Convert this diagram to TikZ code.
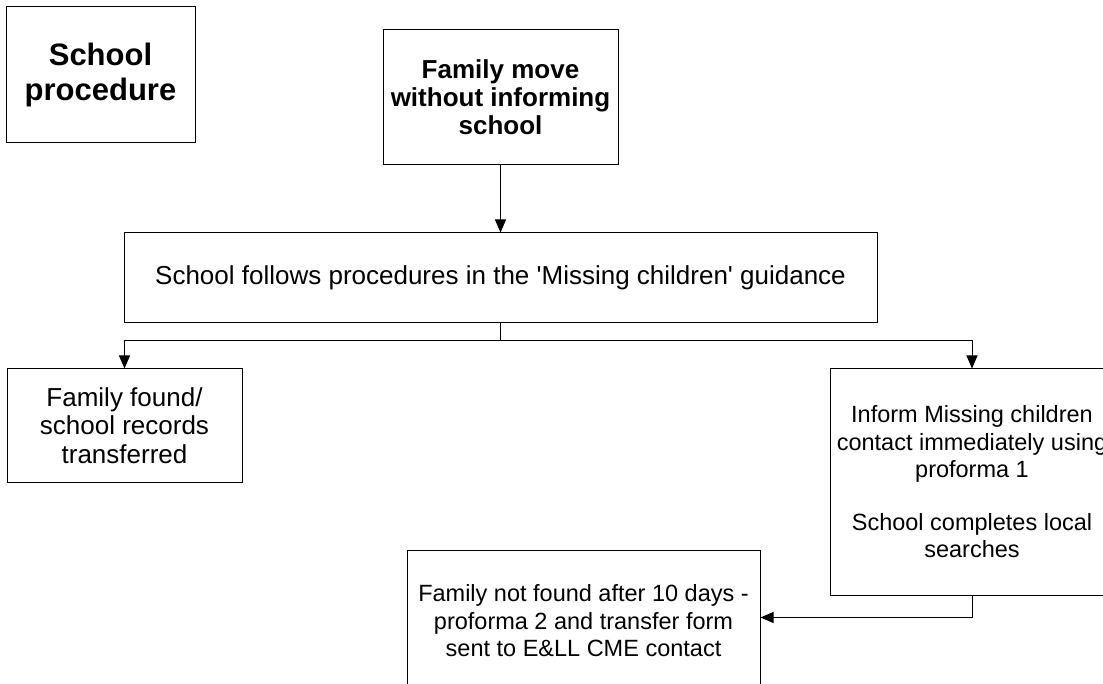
\documentclass[tikz,border=0pt]{standalone}
\usepackage{fontspec}
\setmainfont{Liberation Sans}
\usetikzlibrary{arrows.meta, positioning, calc}

\begin{document}
\begin{tikzpicture}[x=1pt, y=-1pt,
    box/.style={draw=black, fill=white, line width=1pt, align=center, inner sep=0pt,
                font=\fontsize{26}{28.5}\selectfont},
    small/.style={font=\fontsize{23.5}{27.5}\selectfont},
    link/.style={line width=1pt, -{Triangle[length=13pt, width=11pt]}},
    plain/.style={line width=1pt}]
  \clip (0,0) rectangle (1103,684);
  % title and start
  \node[box, minimum width=189pt, minimum height=136pt,
        font=\fontsize{31}{35}\selectfont\bfseries] (proc) at (100.5,75) {School\\procedure};
  \node[box, minimum width=235pt, minimum height=135pt, font=\fontsize{26}{28}\selectfont\bfseries]
        (move) at (500.5,97.5) {Family move\\without informing\\school};
  \node[box, minimum width=753pt, minimum height=90pt] (follow) at (500.5,278)
        {School follows procedures in the \textquotesingle Missing children\textquotesingle\ guidance};
  % outcomes
  \node[box, minimum width=235pt, minimum height=113pt] (found) at (124.5,425.5)
        {Family found/\\school records\\transferred};
  \node[box, small, minimum width=284pt, minimum height=226pt] (inform) at (972,482)
        {Inform Missing children\\contact immediately using\\proforma 1\\[25pt]School completes local\\searches};
  \node[box, small, minimum width=353pt, minimum height=142pt] (notfound) at (583.5,621)
        {Family not found after 10 days -\\proforma 2 and transfer form\\sent to E\&LL CME contact};
  \draw[link] (move.south) -- (follow.north);
  \draw[plain] (follow.south) -- ++(0,17) coordinate (split);
  \draw[link] (split) -| (found.north);
  \draw[link] (split) -| (inform.north);
  \draw[link] (inform.south) -- ++(0,22) coordinate (turn) -- (turn -| notfound.east);
\end{tikzpicture}
\end{document}
